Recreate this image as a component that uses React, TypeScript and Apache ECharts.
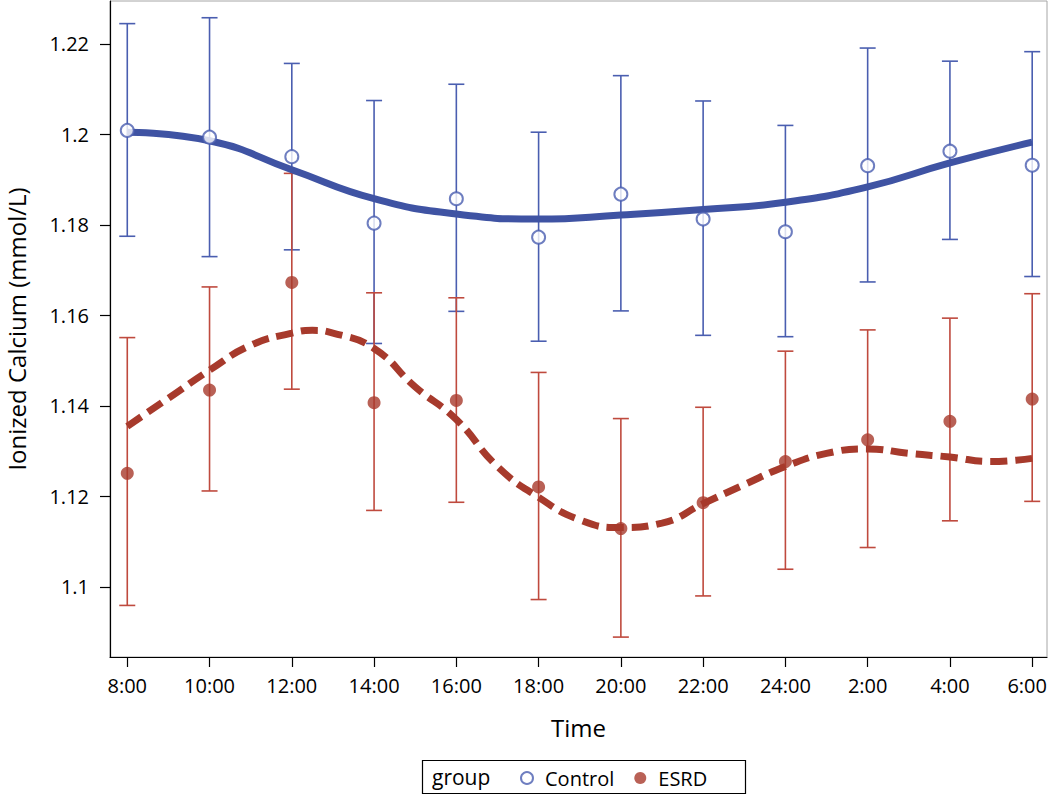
import React, { useEffect, useRef } from 'react';
import * as echarts from 'echarts';

// ---- Data ----
const xLabels = ['8:00', '10:00', '12:00', '14:00', '16:00', '18:00', '20:00', '22:00', '24:00', '2:00', '4:00', '6:00'];
const xPositions = [0, 1, 2, 3, 4, 5, 6, 7, 8, 9, 10, 11];

const yTickValues = [1.1, 1.12, 1.14, 1.16, 1.18, 1.2, 1.22];
const yTickLabels = ['1.1', '1.12', '1.14', '1.16', '1.18', '1.2', '1.22'];

const controlMean = [1.2009, 1.1994, 1.1951, 1.1804, 1.1858, 1.1773, 1.1868, 1.1813, 1.1785, 1.1931, 1.1963, 1.1932];
const controlUpper = [1.2245, 1.2258, 1.2157, 1.2075, 1.2111, 1.2005, 1.213, 1.2074, 1.202, 1.2191, 1.2162, 1.2183];
const controlLower = [1.1775, 1.173, 1.1745, 1.1538, 1.1609, 1.1543, 1.161, 1.1556, 1.1553, 1.1674, 1.1768, 1.1686];

const esrdMean = [1.1251, 1.1435, 1.1673, 1.1407, 1.1412, 1.1221, 1.1129, 1.1186, 1.1277, 1.1325, 1.1366, 1.1415];
const esrdUpper = [1.1551, 1.1663, 1.1914, 1.165, 1.1639, 1.1474, 1.1372, 1.1397, 1.1521, 1.1568, 1.1594, 1.1648];
const esrdLower = [1.0959, 1.1212, 1.1437, 1.1169, 1.1187, 1.0972, 1.0889, 1.098, 1.1039, 1.1087, 1.1146, 1.1189];

// smoothed fit curves
const controlFitX = [0, 1, 2, 3, 4, 5, 6, 7, 8, 9, 10, 11];
const controlFit = [1.2005, 1.1986, 1.1922, 1.1858, 1.1824, 1.1813, 1.1822, 1.1834, 1.185, 1.1884, 1.1937, 1.1983];
const esrdFitX = [0, 0.5, 1, 1.5, 2, 2.25, 2.5, 3, 3.5, 4, 4.5, 5, 5.5, 6, 6.5, 7, 7.5, 8, 8.5, 9, 9.5, 10, 10.5, 11];
const esrdFit = [1.1355, 1.1417, 1.1479, 1.1534, 1.1561, 1.1567, 1.1561, 1.1527, 1.1442, 1.137, 1.1266, 1.1198, 1.1148, 1.1131, 1.1141, 1.1184, 1.1226, 1.1266, 1.1295, 1.1305, 1.1295, 1.1287, 1.1277, 1.1284];

// ---- Styles ----
const BLUE = '#4a5eb0';
const BLUE_LINE = '#3f53a3';
const RED = '#bf4a3e';
const RED_DARK = '#a73a2c';
const FONT = '"Open Sans", "Noto Sans", sans-serif';

const errorBar = (color: string) => (params: any, api: any) => {
  const x = api.value(0);
  const lo = api.coord([x, api.value(1)]);
  const hi = api.coord([x, api.value(2)]);
  const hw = 8;
  const style = { stroke: color, lineWidth: 1.6, fill: 'none' };
  return {
    type: 'group',
    children: [
      { type: 'line', shape: { x1: hi[0], y1: hi[1], x2: lo[0], y2: lo[1] }, style },
      { type: 'line', shape: { x1: hi[0] - hw, y1: hi[1], x2: hi[0] + hw, y2: hi[1] }, style },
      { type: 'line', shape: { x1: lo[0] - hw, y1: lo[1], x2: lo[0] + hw, y2: lo[1] }, style },
    ],
  };
};

export default function App() {
  const ref = useRef<HTMLDivElement>(null);
  useEffect(() => {
    if (!ref.current) return;
    const chart = echarts.init(ref.current, null, { renderer: 'svg' });
    const lastIdx = xLabels.length - 1;
    const option: any = {
      animation: false,
      backgroundColor: '#ffffff',
      textStyle: { fontFamily: FONT },
      grid: {
        left: 110,
        top: 1,
        width: 937,
        height: 656,
        show: true,
        borderColor: '#a6a6a6',
        borderWidth: 1,
        containLabel: false,
        outerBoundsMode: 'none',
      },
      xAxis: {
        type: 'value',
        min: -0.21,
        max: 11.18,
        name: 'Time',
        nameLocation: 'middle',
        nameGap: 58,
        nameTextStyle: { fontFamily: FONT, fontSize: 24, color: '#000' },
        axisLine: { show: true, onZero: false, lineStyle: { color: '#000', width: 1.2 } },
        axisTick: { show: true, length: 10, customValues: xPositions, lineStyle: { color: '#000', width: 1.2 } },
        axisLabel: {
          customValues: xPositions,
          margin: 18,
          fontFamily: FONT,
          fontSize: 20,
          color: '#000',
          formatter: (v: number) => {
            const i = Math.round(v);
            return i === lastIdx ? `{last|${xLabels[i]}}` : xLabels[i];
          },
          rich: {
            last: { fontFamily: FONT, fontSize: 20, color: '#000', padding: [0, 10, 0, 0] },
          },
        },
        splitLine: { show: false },
      },
      yAxis: {
        type: 'value',
        min: 1.0845,
        max: 1.2295,
        name: 'Ionized Calcium (mmol/L)',
        nameLocation: 'middle',
        nameGap: 82,
        nameTextStyle: { fontFamily: FONT, fontSize: 24, color: '#000' },
        axisLine: { show: true, onZero: false, lineStyle: { color: '#000', width: 1.2 } },
        axisTick: { show: true, length: 10, customValues: yTickValues, lineStyle: { color: '#000', width: 1.2 } },
        axisLabel: {
          customValues: yTickValues,
          margin: 21,
          fontFamily: FONT,
          fontSize: 20,
          color: '#000',
          formatter: (v: number) => {
            const idx = yTickValues.findIndex((t) => Math.abs(t - v) < 1e-6);
            return idx >= 0 ? yTickLabels[idx] : '';
          },
        },
        splitLine: { show: false },
      },
      legend: {
        data: [
          { name: 'Control', icon: 'emptyCircle', itemStyle: { borderWidth: 1.6 } },
          { name: 'ESRD', icon: 'circle' },
        ],
        left: 515,
        top: 763,
        itemWidth: 26,
        itemHeight: 12,
        itemGap: 20,
        textStyle: { fontFamily: FONT, fontSize: 20, color: '#000' },
        selectedMode: false,
      },
      graphic: [
        {
          type: 'rect',
          shape: { x: 422.5, y: 760.5, width: 323, height: 33 },
          style: { fill: 'none', stroke: '#000', lineWidth: 1.2 },
        },
        {
          type: 'text',
          x: 432,
          y: 777,
          style: { text: 'group', font: `21px ${FONT}`, fill: '#000', textVerticalAlign: 'middle' },
        },
      ],
      series: [
        {
          name: 'Control bars',
          type: 'custom',
          renderItem: errorBar(BLUE),
          encode: { x: 0, y: [1, 2] },
          data: controlLower.map((lo, i) => [xPositions[i], lo, controlUpper[i]]),
          z: 1,
        },
        {
          name: 'ESRD bars',
          type: 'custom',
          renderItem: errorBar(RED),
          encode: { x: 0, y: [1, 2] },
          data: esrdLower.map((lo, i) => [xPositions[i], lo, esrdUpper[i]]),
          z: 1,
        },
        {
          name: 'Control fit',
          type: 'line',
          smooth: 0.5,
          showSymbol: false,
          symbol: 'none',
          data: controlFitX.map((x, i) => [x, controlFit[i]]),
          lineStyle: { color: BLUE_LINE, width: 7 },
          z: 2,
        },
        {
          name: 'ESRD fit',
          type: 'line',
          smooth: 0.5,
          showSymbol: false,
          symbol: 'none',
          data: esrdFitX.map((x, i) => [x, esrdFit[i]]),
          lineStyle: { color: RED_DARK, width: 7, type: [17, 8] },
          z: 2,
        },
        {
          name: 'Control',
          type: 'scatter',
          symbol: 'emptyCircle',
          symbolSize: 13,
          data: controlMean.map((v, i) => [xPositions[i], v]),
          itemStyle: { color: BLUE, borderColor: BLUE, borderWidth: 1.6 },
          z: 3,
        },
        {
          name: 'ESRD',
          type: 'scatter',
          symbol: 'circle',
          symbolSize: 13,
          data: esrdMean.map((v, i) => [xPositions[i], v]),
          itemStyle: { color: RED_DARK },
          z: 3,
        },
      ],
    };
    chart.setOption(option);
    return () => chart.dispose();
  }, []);
  return <div ref={ref} style={{ position: 'absolute', left: 0, top: 0, width: 1050, height: 796 }} />;
}
